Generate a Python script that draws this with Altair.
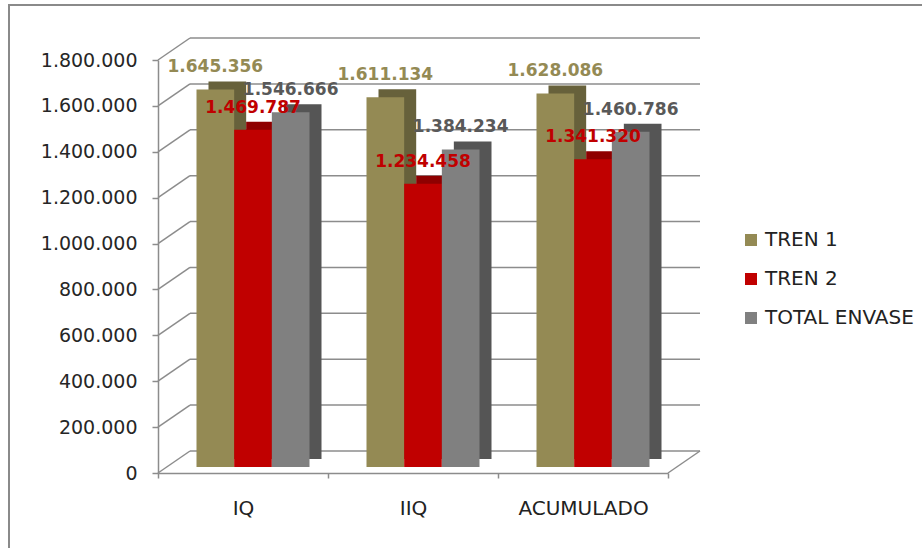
import altair as alt
import pandas as pd

categories = ["IQ", "IIQ", "ACUMULADO"]
series = ["TREN 1", "TREN 2", "TOTAL ENVASE"]
tren1 = [1645356, 1611134, 1628086]
tren2 = [1469787, 1234458, 1341320]
total = [1546666, 1384234, 1460786]
y_ticks = [0, 200000, 400000, 600000, 800000, 1000000, 1200000, 1400000, 1600000, 1800000]

front_colors = ["#948A54", "#C00000", "#808080"]
dark_colors = ["#67613B", "#8E0000", "#555555"]
label_colors = ["#948A54", "#C00000", "#595959"]

rows = []
for i, c in enumerate(categories):
    for s, vals in zip(series, [tren1, tren2, total]):
        rows.append({"cat": c, "serie": s, "v": vals[i]})
df = pd.DataFrame(rows)
gdf = pd.DataFrame({"v": y_ticks})
zdf = pd.DataFrame({"v": [0]})

W, H = 510, 413
GRID = "#8C8C8C"
yscale = alt.Scale(domain=[0, 1800000], nice=False, zero=True)
xscale = alt.Scale(domain=categories, paddingInner=0, paddingOuter=0)
front_off = alt.Scale(domain=series, range=[38.5, 151.5], paddingInner=0, paddingOuter=0)
shadow_off = alt.Scale(domain=series, range=[50.5, 163.5], paddingInner=0, paddingOuter=0)
label_off = alt.Scale(type="point", domain=series, range=[57.33, 132.67], padding=0)

yaxis = alt.Axis(title=None, values=y_ticks, format=",d", grid=False,
                 domainColor=GRID, domainWidth=1.5, tickColor=GRID, tickWidth=1.5,
                 tickSize=6, labelFont="DejaVu Sans", labelFontSize=19,
                 labelColor="#262626", labelPadding=15)
xaxis = alt.Axis(title=None, labelAngle=0, tickBand="extent", tickSize=5,
                 domainColor=GRID, domainWidth=1.5, tickColor=GRID, tickWidth=1.5,
                 labelFont="DejaVu Sans", labelFontSize=20, labelColor="#222222",
                 labelPadding=20)

frame = alt.Chart(zdf).mark_rect(fillOpacity=0, stroke="#8A8A8A", strokeWidth=2).encode(
    x=alt.value(-149), x2=alt.value(900), y=alt.value(-55), y2=alt.value(600)
)

back_grid = alt.Chart(gdf).mark_rule(color=GRID, strokeWidth=1.5, yOffset=-22).encode(
    x=alt.value(32), x2=alt.value(542),
    y=alt.Y("v:Q", scale=yscale, axis=yaxis),
)
diag = alt.Chart(gdf).mark_rule(color=GRID, strokeWidth=1.5, y2Offset=-22).encode(
    x=alt.value(0), x2=alt.value(32),
    y=alt.Y("v:Q", scale=yscale, axis=yaxis), y2="v:Q",
)
floor_right = alt.Chart(zdf).mark_rule(color=GRID, strokeWidth=1.5, y2Offset=-22).encode(
    x=alt.value(510), x2=alt.value(542),
    y=alt.Y("v:Q", scale=yscale, axis=yaxis), y2="v:Q",
)

xenc = alt.X("cat:N", sort=categories, scale=xscale, axis=xaxis)

shadow = alt.Chart(df).mark_bar(yOffset=-14, y2Offset=-14).encode(
    x=xenc, xOffset=alt.XOffset("serie:N", sort=series, scale=shadow_off),
    y=alt.Y("v:Q", scale=yscale, axis=yaxis),
    color=alt.Color("serie:N", scale=alt.Scale(domain=series, range=dark_colors), legend=None),
)

front = alt.Chart(df).mark_bar(yOffset=-6, y2Offset=-6).encode(
    x=xenc, xOffset=alt.XOffset("serie:N", sort=series, scale=front_off),
    y=alt.Y("v:Q", scale=yscale, axis=yaxis),
    color=alt.Color("serie:N", scale=alt.Scale(domain=series, range=front_colors),
                    legend=alt.Legend(title=None, orient="none", legendX=583, legendY=170,
                                      symbolType="square", symbolSize=144, symbolStrokeWidth=0,
                                      labelFont="DejaVu Sans", labelFontSize=20,
                                      labelColor="#222222", labelOffset=4, rowPadding=19)),
)

labels = alt.Chart(df).mark_text(dy=-28, baseline="middle", align="center",
                                 font="DejaVu Sans", fontWeight="bold", fontSize=17).encode(
    x=xenc, xOffset=alt.XOffset("serie:N", sort=series, scale=label_off),
    y=alt.Y("v:Q", scale=yscale, axis=yaxis),
    text=alt.Text("v:Q", format=",d"),
    color=alt.Color("serie:N", scale=alt.Scale(domain=series, range=label_colors), legend=None),
)

chart = alt.layer(frame, back_grid, diag, floor_right, shadow, front, labels).resolve_scale(
    color="independent", xOffset="independent"
).properties(
    width=W, height=H,
    autosize=alt.AutoSizeParams(type="none"),
    padding={"left": 158, "top": 60, "right": 254, "bottom": 75},
    background="white",
).configure(
    locale={"number": {"decimal": ",", "thousands": ".", "grouping": [3], "currency": ["", ""]}},
    view=alt.ViewConfig(stroke=None),
)

chart.save("out.html", embed_options={"renderer": "svg", "actions": False})
